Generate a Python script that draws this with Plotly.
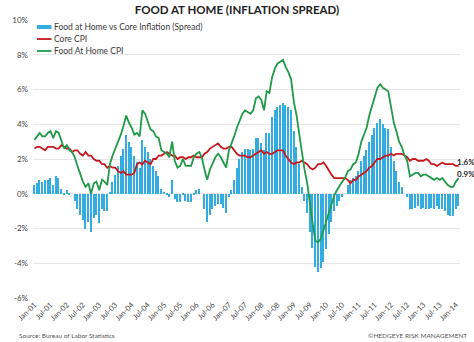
import pandas as pd
import plotly.graph_objects as go

# Monthly year-over-year inflation, Jan 2001 - Feb 2014 (%)
months = pd.date_range("2001-01-01", periods=158, freq="MS")

core_cpi = [
    2.6, 2.7, 2.7, 2.6, 2.5, 2.7, 2.7, 2.7, 2.6, 2.6, 2.8, 2.7,   # 2001
    2.6, 2.6, 2.4, 2.5, 2.5, 2.3, 2.2, 2.4, 2.2, 2.2, 2.0, 1.9,   # 2002
    1.9, 1.7, 1.7, 1.5, 1.6, 1.5, 1.5, 1.3, 1.2, 1.3, 1.1, 1.1,   # 2003
    1.1, 1.2, 1.7, 1.8, 1.7, 1.9, 1.8, 1.7, 2.0, 2.0, 2.2, 2.2,   # 2004
    2.3, 2.4, 2.3, 2.2, 2.2, 2.0, 2.1, 2.1, 2.0, 2.1, 2.1, 2.2,   # 2005
    2.1, 2.1, 2.1, 2.3, 2.4, 2.6, 2.7, 2.8, 2.9, 2.7, 2.6, 2.6,   # 2006
    2.7, 2.7, 2.5, 2.3, 2.2, 2.2, 2.2, 2.1, 2.1, 2.2, 2.3, 2.4,   # 2007
    2.5, 2.3, 2.4, 2.3, 2.3, 2.4, 2.5, 2.5, 2.5, 2.2, 2.0, 1.8,   # 2008
    1.7, 1.8, 1.8, 1.9, 1.8, 1.7, 1.5, 1.4, 1.5, 1.7, 1.7, 1.8,   # 2009
    1.6, 1.3, 1.1, 0.9, 0.9, 0.9, 0.9, 0.9, 0.8, 0.6, 0.8, 0.8,   # 2010
    1.0, 1.1, 1.2, 1.3, 1.5, 1.6, 1.8, 2.0, 2.0, 2.1, 2.2, 2.2,   # 2011
    2.3, 2.2, 2.3, 2.3, 2.3, 2.2, 2.1, 1.9, 2.0, 2.0, 1.9, 1.9,   # 2012
    1.9, 2.0, 1.9, 1.7, 1.7, 1.6, 1.7, 1.8, 1.7, 1.7, 1.7, 1.7,   # 2013
    1.6, 1.6,                                                     # 2014
]

food_at_home_cpi = [
    3.1, 3.3, 3.5, 3.3, 3.3, 3.5, 3.6, 3.2, 3.6, 3.5, 3.1, 2.6,   # 2001
    2.8, 2.5, 2.4, 2.1, 1.6, 1.1, 0.7, 0.4, 0.6, 0.0, 0.6, 0.7,   # 2002
    0.2, 0.8, 0.7, 0.5, 1.7, 2.2, 2.6, 2.9, 3.4, 3.9, 4.5, 4.1,   # 2003
    3.8, 3.4, 3.5, 3.3, 4.8, 4.6, 4.2, 3.7, 3.6, 3.3, 3.2, 2.5,   # 2004
    2.4, 2.3, 2.1, 3.0, 1.9, 1.5, 1.6, 2.0, 1.6, 1.6, 1.6, 2.1,   # 2005
    2.3, 2.4, 2.1, 1.4, 0.8, 1.4, 1.8, 2.1, 2.3, 2.1, 1.8, 1.5,   # 2006
    2.5, 2.9, 3.3, 3.8, 4.2, 4.6, 4.8, 4.7, 4.6, 4.8, 5.5, 5.6,   # 2007
    5.4, 4.8, 5.9, 5.8, 6.7, 7.2, 7.5, 7.6, 7.7, 7.3, 7.0, 6.6,   # 2008
    5.3, 4.5, 3.5, 2.3, 1.4, 0.6, -0.7, -1.7, -2.7, -2.8, -2.6, -2.1,  # 2009
    -1.6, -1.0, -0.5, -0.1, 0.2, 0.5, 0.7, 0.9, 1.3, 1.4, 1.7, 1.8,   # 2010
    2.3, 3.0, 3.4, 3.8, 4.5, 5.0, 5.6, 6.1, 6.3, 6.1, 6.0, 5.9,   # 2011
    5.0, 4.1, 3.6, 3.0, 2.7, 2.2, 1.9, 1.0, 1.1, 1.2, 1.2, 1.0,   # 2012
    1.1, 1.1, 1.0, 0.9, 0.8, 0.9, 0.8, 0.9, 0.7, 0.5, 0.4, 0.4,   # 2013
    0.7, 0.9,                                                     # 2014
]

# Spread: food-at-home inflation minus core inflation
spread = [round(f - c, 2) for f, c in zip(food_at_home_cpi, core_cpi)]

y_ticks = [10, 8, 6, 4, 2, 0, -2, -4, -6]

BAR_BLUE = "#33ADE0"
CORE_RED = "#C8161E"
FOOD_GREEN = "#1F9A48"
FONT = "Lato"

fig = go.Figure()

fig.add_trace(go.Bar(
    x=months, y=spread,
    width=16 * 24 * 3600 * 1000,
    marker=dict(color=BAR_BLUE, line=dict(width=0)),
    name="Food at Home vs Core Inflation (Spread)",
    showlegend=False,
))
fig.add_trace(go.Scatter(
    x=months, y=core_cpi, mode="lines",
    line=dict(color=CORE_RED, width=1.8),
    name="Core CPI", showlegend=False,
))
fig.add_trace(go.Scatter(
    x=months, y=food_at_home_cpi, mode="lines",
    line=dict(color=FOOD_GREEN, width=1.8),
    name="Food At Home CPI", showlegend=False,
))

# Plot-area geometry (pixels) used to place the hand-built legend
L, R, T, B = 21, 14, 20, 44
W, H = 474 - L - R, 342 - T - B


def px_x(p):
    return (p - L) / W


def px_y(p):
    return (342 - B - p) / H


legend_items = [
    ("Food at Home vs Core Inflation (Spread)", BAR_BLUE, 4),
    ("Core CPI", CORE_RED, 1.8),
    ("Food At Home CPI", FOOD_GREEN, 1.8),
]
shapes = []
annotations = []
for k, (label, color, thick) in enumerate(legend_items):
    yy = 27 + 12 * k
    shapes.append(dict(
        type="line", xref="paper", yref="paper",
        x0=px_x(25), x1=px_x(40), y0=px_y(yy), y1=px_y(yy),
        line=dict(color=color, width=thick),
    ))
    annotations.append(dict(
        text=label, xref="paper", yref="paper",
        x=px_x(40.5), y=px_y(yy), xanchor="left", yanchor="middle",
        showarrow=False, font=dict(family=FONT, size=8.5, color="#3a3a3a"),
    ))

# End-of-series value labels
for series in (core_cpi, food_at_home_cpi):
    annotations.append(dict(
        text=f"{series[-1]:.1f}%", x=months[-1], y=series[-1],
        xanchor="left", yanchor="middle", xshift=-4, yshift=4, showarrow=False,
        font=dict(family=FONT, size=8, color="#222222", weight="bold"),
    ))

# Footer
annotations.append(dict(
    text="Source: Bureau of Labor Statistics", xref="paper", yref="paper",
    x=px_x(5), y=px_y(335), xanchor="left", yanchor="middle", showarrow=False,
    font=dict(family=FONT, size=6.5, color="#555555"),
))
annotations.append(dict(
    text="©HEDGEYE RISK MANAGEMENT", xref="paper", yref="paper",
    x=px_x(469), y=px_y(335), xanchor="right", yanchor="middle", showarrow=False,
    font=dict(family=FONT, size=6.5, color="#555555"),
))

fig.update_layout(
    width=474, height=342,
    margin=dict(l=L, r=R, t=T, b=B),
    paper_bgcolor="white", plot_bgcolor="white",
    title=dict(
        text="FOOD AT HOME (INFLATION SPREAD)",
        x=0.5, xanchor="center", y=1 - 10 / 342, yanchor="middle",
        font=dict(family=FONT, size=11.5, color="#222222", weight="bold"),
    ),
    bargap=0,
    shapes=shapes,
    annotations=annotations,
    xaxis=dict(
        type="date",
        range=["2000-12-16", "2014-02-16"],
        tick0="2001-01-01", dtick="M6", tickformat="%b-%y",
        tickangle=-45,
        tickfont=dict(family=FONT, size=7.5, color="#444444"),
        showgrid=False, zeroline=False, showline=False, ticks="",
    ),
    yaxis=dict(
        range=[-6, 10],
        tickvals=y_ticks,
        ticktext=[f"{v}%" for v in y_ticks],
        tickfont=dict(family=FONT, size=8, color="#444444"),
        showgrid=True, gridcolor="#E6E6E6", gridwidth=1,
        zeroline=False, showline=False, ticks="",
        ticklabelstandoff=4,
    ),
)

fig.write_html("out.html")
